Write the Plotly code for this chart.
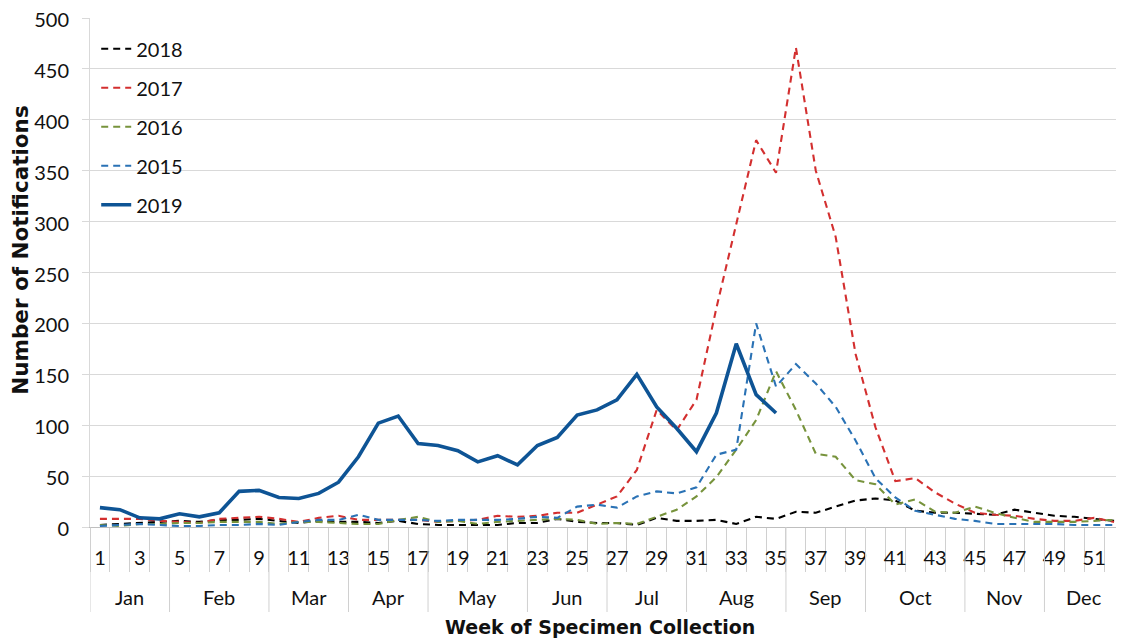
import plotly.graph_objects as go

# ---------------- data ----------------
weeks = list(range(1, 53))
month_names = ["Jan", "Feb", "Mar", "Apr", "May", "Jun", "Jul", "Aug", "Sep", "Oct", "Nov", "Dec"]
weeks_per_month = [4, 5, 4, 4, 5, 4, 4, 5, 4, 5, 4, 4]
week_tick_vals = list(range(1, 53, 2))
week_tick_text = [str(w) for w in week_tick_vals]

y2018 = [2, 3, 4, 5, 6, 5, 7, 7, 8, 6, 4, 6, 5,
         5, 4, 6, 3, 2, 2, 2, 2, 4, 4, 8, 5, 4, 4,
         2, 9, 6, 6, 7, 3, 10, 8, 15, 14, 20, 26, 28, 26,
         16, 14, 14, 13, 12, 17, 14, 11, 10, 8, 6]
y2017 = [8, 8, 8, 6, 5, 4, 8, 9, 10, 8, 5, 9, 11,
         7, 7, 7, 7, 5, 6, 7, 11, 10, 11, 14, 14, 22, 30,
         56, 115, 95, 125, 215, 297, 380, 348, 471, 350, 285, 170, 98, 45,
         48, 34, 23, 14, 12, 11, 8, 6, 6, 9, 5]
y2016 = [2, 1, 3, 3, 4, 4, 5, 5, 5, 3, 5, 5, 4,
         3, 3, 7, 10, 5, 6, 3, 5, 6, 7, 8, 7, 3, 4,
         3, 10, 17, 30, 49, 76, 105, 153, 115, 72, 69, 46, 42, 22,
         27, 15, 14, 20, 14, 9, 5, 5, 5, 6, 7]
y2015 = [1, 2, 3, 2, 1, 1, 2, 2, 3, 2, 5, 7, 7,
         12, 7, 7, 7, 6, 7, 7, 7, 8, 10, 9, 20, 22, 19,
         30, 35, 33, 39, 71, 76, 200, 138, 160, 141, 118, 85, 48, 29,
         16, 12, 8, 6, 3, 3, 3, 3, 2, 2, 2]
y2019 = [19, 17, 9, 8, 13, 10, 14, 35, 36, 29, 28, 33, 44, 69, 102, 109, 82, 80,
         75, 64, 70, 61, 80, 88, 110, 115, 125, 150, 118, 97, 74, 112, 180, 130, 112]

series_names = ["2018", "2017", "2016", "2015", "2019"]
series_values = [y2018, y2017, y2016, y2015, y2019]
series_colors = ["#000000", "#d32f2f", "#77933c", "#2a72b5", "#0e5495"]

FONT = "Lato, 'Open Sans', sans-serif"
BOLD = "'DejaVu Sans', Lato, sans-serif"
TXT = "#111111"

fig = go.Figure()
for name, vals, col in zip(series_names, series_values, series_colors):
    solid = name == "2019"
    fig.add_trace(go.Scatter(
        x=weeks[:len(vals)], y=vals, name=name, mode="lines",
        legendgroup=name,
        line=dict(color=col, width=3.6 if solid else 2.1,
                  dash="solid" if solid else "7px,5px"),
    ))

# month dividers and labels (derived from weeks_per_month)
bounds = [0.5]
for n in weeks_per_month:
    bounds.append(bounds[-1] + n)

shapes = []
annotations = []
for b in bounds:
    shapes.append(dict(type="line", xref="x", yref="paper", x0=b, x1=b,
                       y0=0, y1=-0.167, line=dict(color="#d0d0d0", width=1)))
for i, m in enumerate(month_names):
    annotations.append(dict(x=(bounds[i] + bounds[i + 1]) / 2, xref="x",
                            y=-0.1375, yref="paper", text=m, showarrow=False,
                            xanchor="center", yanchor="middle",
                            font=dict(family=FONT, size=20, color=TXT)))

annotations.append(dict(x=0.493, xref="paper", y=-0.1965, yref="paper",
                        text="<b>Week of Specimen Collection</b>", showarrow=False,
                        xanchor="center", yanchor="middle",
                        font=dict(family=BOLD, size=19, color=TXT)))
annotations.append(dict(x=-0.068, xref="paper", y=0.544, yref="paper",
                        text="<b>Number of Notifications</b>", showarrow=False,
                        textangle=-90, xanchor="center", yanchor="middle",
                        font=dict(family=BOLD, size=21.5, color=TXT)))

# the page body adds an 8px offset, so the margins compensate for it
fig.update_layout(
    width=1124, height=641,
    margin=dict(l=82, r=8, t=10, b=122, autoexpand=False),
    paper_bgcolor="white", plot_bgcolor="white",
    font=dict(family=FONT, size=19, color=TXT),
    showlegend=True,
    legend=dict(x=0.006, y=0.978, xanchor="left", yanchor="top",
                bgcolor="rgba(0,0,0,0)", font=dict(family=FONT, size=20, color=TXT),
                tracegroupgap=10, itemwidth=30, traceorder="grouped"),
    shapes=shapes,
    annotations=annotations,
)

fig.update_xaxes(
    automargin=False,
    range=[0.5, 52.5], tickmode="array", tickvals=week_tick_vals, ticktext=week_tick_text,
    ticks="outside", ticklen=13, tickcolor="rgba(0,0,0,0)",
    showgrid=False, zeroline=False, showline=True, linecolor="#bfbfbf", linewidth=1,
    tickfont=dict(family=FONT, size=20, color=TXT),
    ticklabeloverflow="allow",
    minor=dict(tickmode="array", tickvals=[b + 0.5 for b in range(0, 53)],
               ticks="outside", ticklen=44, tickcolor="#d0d0d0", tickwidth=1, showgrid=False),
)
fig.update_yaxes(
    automargin=False,
    range=[0, 500], dtick=50, tick0=0,
    showgrid=True, gridcolor="#d9d9d9", gridwidth=1,
    zeroline=False, showline=True, linecolor="#d9d9d9", linewidth=1,
    ticks="outside", ticklen=7, tickcolor="#d9d9d9",
    tickfont=dict(family=FONT, size=20, color=TXT),
    ticklabelstandoff=9, ticklabelshift=2, ticklabeloverflow="allow",
)

fig.write_html("out.html")
